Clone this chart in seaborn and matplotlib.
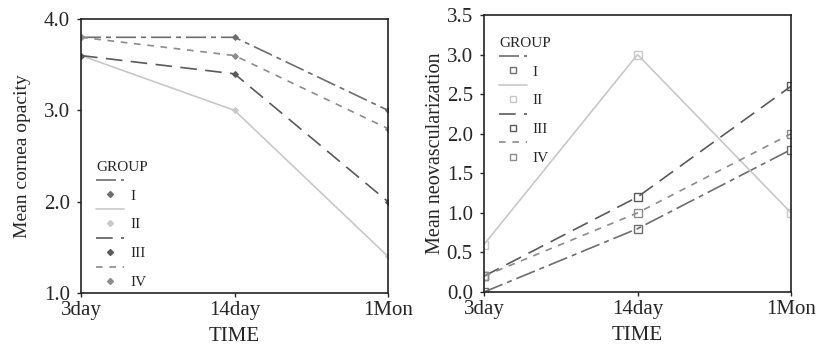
import pandas as pd
import seaborn as sns
import matplotlib.pyplot as plt
from matplotlib.lines import Line2D

# Dados
tempos = ['3day', '14day', '1Mon']
grupos = ['I', 'II', 'III', 'IV']

opacidade_I = [3.8, 3.8, 3.0]
opacidade_II = [3.6, 3.0, 1.4]
opacidade_III = [3.6, 3.4, 2.0]
opacidade_IV = [3.8, 3.6, 2.8]

neovasc_I = [0.0, 0.8, 1.8]
neovasc_II = [0.6, 3.0, 1.0]
neovasc_III = [0.2, 1.2, 2.6]
neovasc_IV = [0.2, 1.0, 2.0]

def long_df(series, nome):
    linhas = []
    for g, valores in zip(grupos, series):
        for t, v in zip(tempos, valores):
            linhas.append({'GROUP': g, 'TIME': t, nome: v})
    df = pd.DataFrame(linhas)
    df['x'] = df['TIME'].map({t: i for i, t in enumerate(tempos)})
    return df

df_op = long_df([opacidade_I, opacidade_II, opacidade_III, opacidade_IV], 'opacity')
df_nv = long_df([neovasc_I, neovasc_II, neovasc_III, neovasc_IV], 'neovasc')

# Estilo
sns.set_style('ticks')
plt.rcParams['font.family'] = ['Liberation Serif', 'DejaVu Serif']

cores = {'I': '#6e6e6e', 'II': '#c8c8c8', 'III': '#5a5a5a', 'IV': '#8c8c8c'}
tracos = {'I': (12, 3, 3, 3), 'II': '', 'III': (10, 5), 'IV': (4, 4)}

fig = plt.figure(figsize=(8.21, 3.59), dpi=100)
ax1 = fig.add_axes([0.0987, 0.1838, 0.3739, 0.7632])
ax2 = fig.add_axes([0.5895, 0.1866, 0.374, 0.7716])


def legenda(ax, marcador, tam, face, loc, anchor):
    handles, labels = [], []
    for g in grupos:
        handles.append(Line2D([], [], color=cores[g], lw=1.2,
                              dashes=tracos[g] if tracos[g] else (None, None)))
        labels.append('')
        handles.append(Line2D([], [], color=cores[g], marker=marcador, ms=tam,
                              mfc=face if face else cores[g], mec=cores[g],
                              linestyle='none'))
        labels.append(g)
    leg = ax.legend(handles, labels, title='GROUP', frameon=False, loc=loc,
                    bbox_to_anchor=anchor, fontsize=11, title_fontsize=11,
                    handlelength=1.8, handletextpad=0.4, labelspacing=0.05,
                    alignment='left', borderaxespad=0.2)
    return leg


# Gráfico 1 - opacidade
sns.lineplot(data=df_op, x='x', y='opacity', hue='GROUP', style='GROUP',
             palette=cores, dashes=tracos, markers={g: 'D' for g in grupos},
             markersize=3, linewidth=1.2, ax=ax1, legend=False)
for ln in ax1.lines:
    ln.set_markeredgecolor(ln.get_color())
ax1.set_xlim(0, 2)
ax1.set_ylim(1.0, 4.0)
ax1.set_yticks([1.0, 2.0, 3.0, 4.0])
ax1.set_yticklabels(['1.0', '2.0', '3.0', '4.0'])
ax1.set_xticks([0, 1, 2])
ax1.set_xticklabels(tempos)
ax1.set_xlabel('TIME', fontsize=15)
ax1.set_ylabel('Mean cornea opacity', fontsize=14, labelpad=9)
legenda(ax1, 'D', 3, None, 'lower left', (0.02, -0.02))

# Gráfico 2 - neovascularização
sns.lineplot(data=df_nv, x='x', y='neovasc', hue='GROUP', style='GROUP',
             palette=cores, dashes=tracos, markers={g: 's' for g in grupos},
             markersize=5.5, linewidth=1.2, ax=ax2, legend=False)
for ln in ax2.lines:
    ln.set_markerfacecolor('none')
    ln.set_markeredgecolor(ln.get_color())
    ln.set_markeredgewidth(1.0)
ax2.set_xlim(0, 2)
ax2.set_ylim(0.0, 3.5)
ax2.set_yticks([0.0, 0.5, 1.0, 1.5, 2.0, 2.5, 3.0, 3.5])
ax2.set_yticklabels(['0.0', '0.5', '1.0', '1.5', '2.0', '2.5', '3.0', '3.5'])
ax2.set_xticks([0, 1, 2])
ax2.set_xticklabels(tempos)
ax2.set_xlabel('TIME', fontsize=15)
ax2.set_ylabel('Mean neovascularization', fontsize=14.5, labelpad=1)
legenda(ax2, 's', 5, 'none', 'upper left', (0.02, 0.955))

for ax in (ax1, ax2):
    ax.tick_params(labelsize=15, length=3, width=1, direction='out', pad=5)
    ax.tick_params(axis='x', pad=3)
    for s in ax.spines.values():
        s.set_linewidth(1.2)
        s.set_color('#222222')
    ax.xaxis.labelpad = 5

plt.savefig('out.png', dpi=100)
